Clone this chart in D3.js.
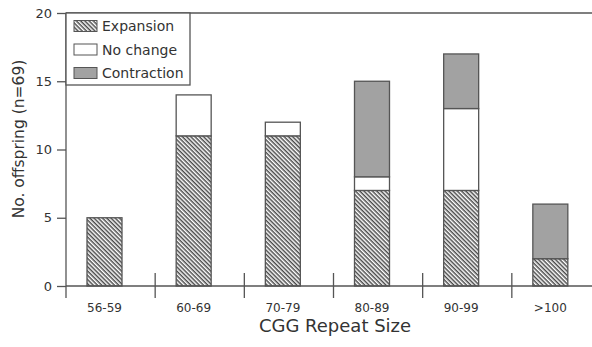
<!DOCTYPE html>
<html>
<head>
<meta charset="utf-8">
<script src="https://cdn.jsdelivr.net/npm/d3@7"></script>
<style>
  body { margin: 0; background: #fff; }
  svg { display: block; font-family: "DejaVu Sans", sans-serif; }
</style>
</head>
<body>
<div id="chart"></div>
<script>
// CGG repeat size categories
const categories = ['56-59', '60-69', '70-79', '80-89', '90-99', '>100'];
const expansion = [5, 11, 11, 7, 7, 2];
const noChange = [0, 3, 1, 1, 6, 0];
const contraction = [0, 0, 0, 7, 4, 4];
const yTicks = [0, 5, 10, 15, 20];
const seriesNames = ['Expansion', 'No change', 'Contraction'];

const width = 592, height = 347;
const plotLeft = 66, plotTop = 13, plotBottom = 286;
const lineColor = '#555';

const svg = d3.select('#chart').append('svg')
    .attr('width', width)
    .attr('height', height);

// hatch pattern for expansion
const defs = svg.append('defs');
const pat = defs.append('pattern')
    .attr('id', 'hatch')
    .attr('patternUnits', 'userSpaceOnUse')
    .attr('width', 3).attr('height', 3)
    .attr('patternTransform', 'rotate(45)');
pat.append('rect').attr('width', 3).attr('height', 3).attr('fill', '#fff');
pat.append('line')
    .attr('x1', 0).attr('y1', 0.75).attr('x2', 3).attr('y2', 0.75)
    .attr('stroke', '#4a4a4a').attr('stroke-width', 1.5);

const fills = ['url(#hatch)', '#ffffff', '#a2a2a2'];

const x = d3.scaleBand().domain(categories).range([plotLeft, 601]);
const y = d3.scaleLinear().domain([0, 20]).range([plotBottom, plotTop]);
const barW = 35;
const barOffset = 21;

// stacked data
const rows = categories.map(function(c, i) {
    return { cat: c, Expansion: expansion[i], 'No change': noChange[i], Contraction: contraction[i] };
});
const stack = d3.stack().keys(seriesNames)(rows);

stack.forEach(function(layer, k) {
    svg.append('g').selectAll('rect')
        .data(layer.filter(function(d) { return d[1] > d[0]; }))
        .enter().append('rect')
        .attr('x', function(d) { return x(d.data.cat) + barOffset; })
        .attr('y', function(d) { return y(d[1]); })
        .attr('width', barW)
        .attr('height', function(d) { return y(d[0]) - y(d[1]); })
        .attr('fill', fills[k])
        .attr('stroke', lineColor)
        .attr('stroke-width', 1.3);
});

// top frame line
svg.append('line')
    .attr('x1', plotLeft).attr('x2', width)
    .attr('y1', y(20)).attr('y2', y(20))
    .attr('stroke', lineColor).attr('stroke-width', 1.3);

// y axis
const yAxis = svg.append('g')
    .attr('transform', 'translate(' + plotLeft + ',0)')
    .call(d3.axisLeft(y).tickValues(yTicks).tickSize(9).tickPadding(5));
yAxis.select('.domain').remove();
yAxis.append('line')
    .attr('x1', 0).attr('x2', 0)
    .attr('y1', y(20)).attr('y2', 298)
    .attr('stroke', lineColor).attr('stroke-width', 1.3);
yAxis.selectAll('.tick line').attr('stroke', lineColor).attr('stroke-width', 1.3);
yAxis.selectAll('.tick text')
    .attr('fill', '#333').style('font-size', '13px').style('font-family', '"DejaVu Sans", sans-serif');

// x axis: baseline plus boundary ticks crossing it
svg.append('line')
    .attr('x1', plotLeft).attr('x2', width)
    .attr('y1', plotBottom).attr('y2', plotBottom)
    .attr('stroke', lineColor).attr('stroke-width', 1.3);
categories.slice(1).forEach(function(c) {
    svg.append('line')
        .attr('x1', x(c)).attr('x2', x(c))
        .attr('y1', plotBottom - 13).attr('y2', plotBottom + 12)
        .attr('stroke', lineColor).attr('stroke-width', 1.3);
});
categories.forEach(function(c) {
    svg.append('text')
        .attr('x', x(c) + barOffset + barW / 2)
        .attr('y', 312)
        .attr('text-anchor', 'middle')
        .attr('font-size', '12px')
        .attr('fill', '#333')
        .text(c);
});

// axis titles
svg.append('text')
    .attr('x', 335).attr('y', 332)
    .attr('text-anchor', 'middle')
    .attr('font-size', '18px')
    .attr('fill', '#333')
    .text('CGG Repeat Size');

svg.append('text')
    .attr('transform', 'translate(24,139) rotate(-90)')
    .attr('text-anchor', 'middle')
    .attr('font-size', '15.5px')
    .attr('fill', '#333')
    .text('No. offspring (n=69)');

// legend
const legend = svg.append('g').attr('transform', 'translate(' + plotLeft + ',' + plotTop + ')');
legend.append('rect')
    .attr('width', 124).attr('height', 72)
    .attr('fill', '#fff')
    .attr('stroke', lineColor).attr('stroke-width', 1.3);
seriesNames.forEach(function(name, i) {
    const row = legend.append('g').attr('transform', 'translate(8,' + (13 + i * 23.5) + ')');
    row.append('rect')
        .attr('x', 0).attr('y', -5.5)
        .attr('width', 23).attr('height', 11)
        .attr('fill', fills[i])
        .attr('stroke', lineColor).attr('stroke-width', 1);
    row.append('text')
        .attr('x', 28).attr('y', 5)
        .attr('font-size', '14px')
        .attr('fill', '#333')
        .text(name);
});
</script>
</body>
</html>
